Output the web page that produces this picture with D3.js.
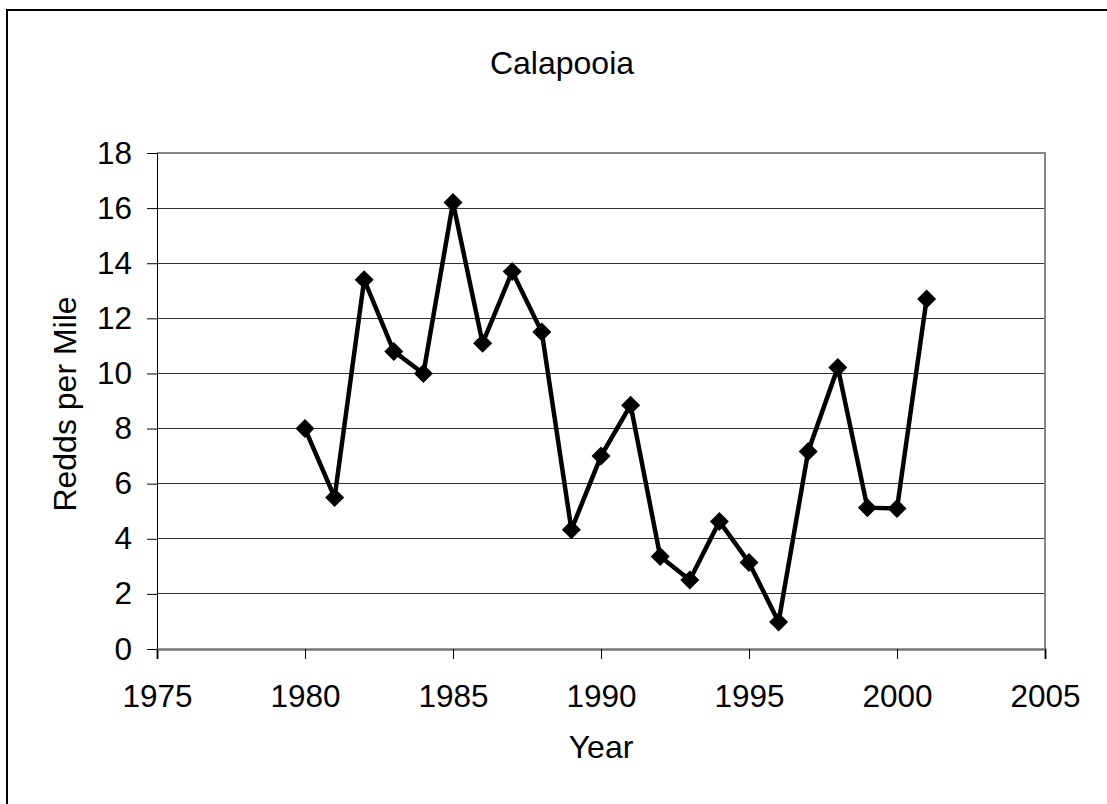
<!DOCTYPE html>
<html>
<head>
<meta charset="utf-8">
<script src="https://cdn.jsdelivr.net/npm/d3@7"></script>
<style>
  body { margin: 0; background: #fff; }
  text { font-family: "Liberation Sans", Arial, sans-serif; fill: #000; }
</style>
</head>
<body>
<div id="chart"></div>
<script>
// Data
var years = [1980, 1981, 1982, 1983, 1984, 1985, 1986, 1987, 1988, 1989, 1990,
             1991, 1992, 1993, 1994, 1995, 1996, 1997, 1998, 1999, 2000, 2001];
var redds = [8.0, 5.5, 13.4, 10.8, 10.0, 16.2, 11.1, 13.7, 11.5, 4.33, 7.0,
             8.85, 3.36, 2.5, 4.63, 3.14, 0.98, 7.17, 10.22, 5.13, 5.1, 12.7];
var xTicks = [1975, 1980, 1985, 1990, 1995, 2000, 2005];
var yTicks = [0, 2, 4, 6, 8, 10, 12, 14, 16, 18];

var data = years.map(function(d, i) { return {year: d, value: redds[i]}; });

var W = 1107, H = 804;
var margin = {top: 153, right: 62, bottom: 155, left: 157};
var width = W - margin.left - margin.right;
var height = H - margin.top - margin.bottom;
var fontSize = 31.5;

var svg = d3.select("#chart")
    .append("svg")
        .attr("width", W)
        .attr("height", H);

// outer chart border (only top and left visible)
svg.append("rect")
    .attr("x", 7).attr("y", 10)
    .attr("width", W + 20).attr("height", H + 20)
    .attr("fill", "none")
    .attr("stroke", "#000")
    .attr("stroke-width", 2);

var g = svg.append("g")
    .attr("transform", "translate(" + margin.left + "," + margin.top + ")");

var x = d3.scaleLinear().domain([1975, 2005]).range([0, width]);
var y = d3.scaleLinear().domain([0, 18]).range([height, 0]);

// gridlines
g.append("g")
    .selectAll("line")
    .data(yTicks.filter(d => d > 0 && d < 18))
    .join("line")
        .attr("x1", 0).attr("x2", width)
        .attr("y1", d => y(d)).attr("y2", d => y(d))
        .attr("stroke", "#333")
        .attr("stroke-width", 1)
        .attr("shape-rendering", "crispEdges");

// plot frame: top and right in gray
g.append("path")
    .attr("d", "M0," + y(18) + "H" + width + "V" + height)
    .attr("fill", "none")
    .attr("stroke", "#888")
    .attr("stroke-width", 2);

// axes
var yAxis = g.append("g")
    .call(d3.axisLeft(y).tickValues(yTicks).tickSize(10).tickPadding(15).tickFormat(d3.format("d")));
var xAxis = g.append("g")
    .attr("transform", "translate(0," + height + ")")
    .call(d3.axisBottom(x).tickValues(xTicks).tickSize(10).tickPadding(26).tickFormat(d3.format("d")));

yAxis.select(".domain").attr("stroke", "#000").attr("stroke-width", 1);
xAxis.select(".domain").attr("stroke", "#777").attr("stroke-width", 2.5);
svg.selectAll(".tick line").attr("stroke", "#000").attr("stroke-width", 1);
svg.selectAll(".tick text")
    .attr("font-family", "Liberation Sans, Arial, sans-serif")
    .attr("font-size", fontSize)
    .attr("fill", "#000");

// line
var line = d3.line()
    .x(d => x(d.year))
    .y(d => y(d.value));

g.append("path")
    .datum(data)
    .attr("d", line)
    .attr("fill", "none")
    .attr("stroke", "#000")
    .attr("stroke-width", 4.5)
    .attr("stroke-linejoin", "miter");

// diamond markers
g.append("g")
    .selectAll("path")
    .data(data)
    .join("path")
        .attr("transform", d => "translate(" + x(d.year) + "," + y(d.value) + ")")
        .attr("d", "M0,-9.5L9.5,0L0,9.5L-9.5,0Z")
        .attr("fill", "#000");

// titles
svg.append("text")
    .attr("x", 562).attr("y", 74)
    .attr("text-anchor", "middle")
    .attr("font-size", 32)
    .text("Calapooia");

svg.append("text")
    .attr("x", margin.left + width / 2).attr("y", 758)
    .attr("text-anchor", "middle")
    .attr("font-size", 32)
    .text("Year");

svg.append("text")
    .attr("transform", "translate(76," + (margin.top + height / 2 + 3) + ") rotate(-90)")
    .attr("text-anchor", "middle")
    .attr("font-size", 32)
    .text("Redds per Mile");
</script>
</body>
</html>
